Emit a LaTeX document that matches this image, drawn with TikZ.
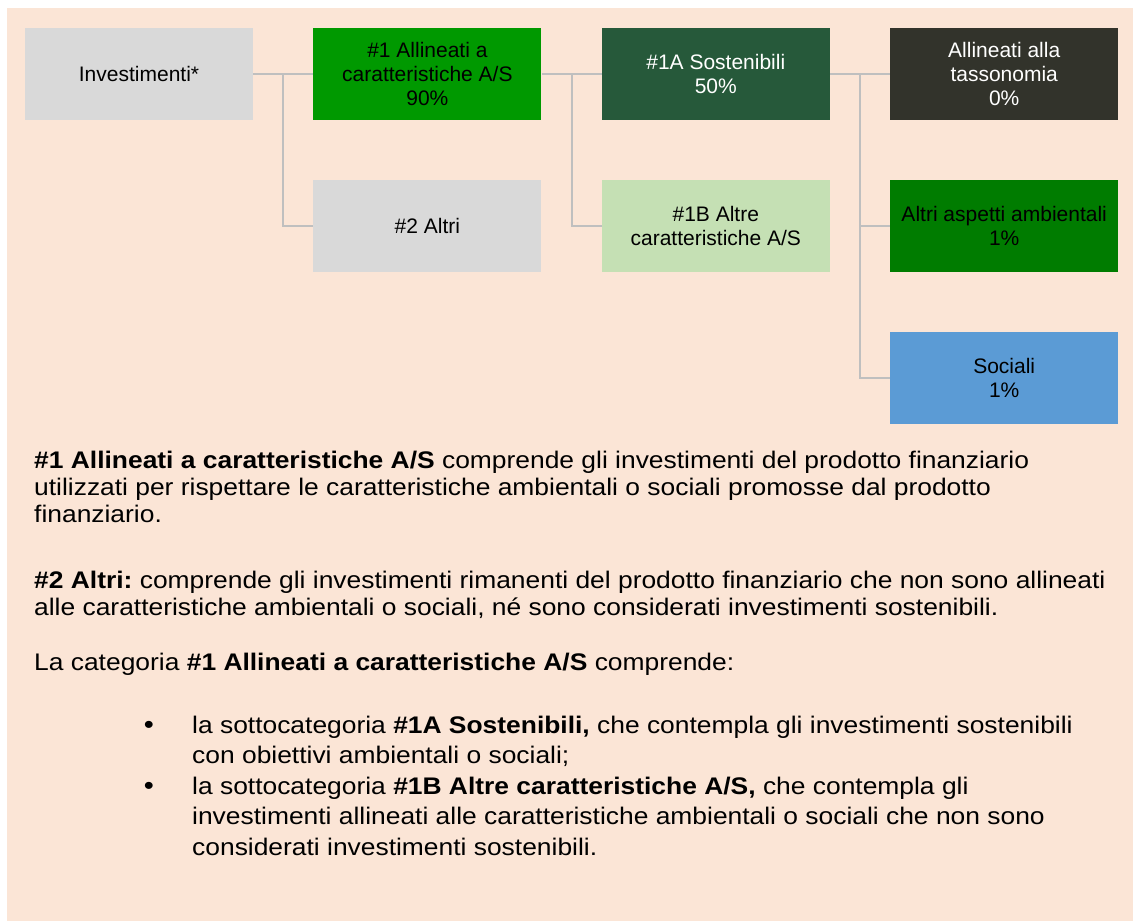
\documentclass[tikz,border=0pt]{standalone}
\usepackage{fontspec}
\setmainfont{Liberation Sans}
\newfontfamily\bodyfont[FakeStretch=1.1]{Liberation Sans}
\usetikzlibrary{positioning}
\usetikzlibrary{calc}
\frenchspacing

\definecolor{peach}{HTML}{FBE5D6}
\definecolor{boxgray}{HTML}{D9D9D9}
\definecolor{linkgray}{HTML}{BFBFBF}
\definecolor{aligngreen}{HTML}{009900}
\definecolor{sustgreen}{HTML}{26593A}
\definecolor{taxdark}{HTML}{32332B}
\definecolor{envgreen}{HTML}{007C00}
\definecolor{lightgreen}{HTML}{C5E0B4}
\definecolor{socialblue}{HTML}{5B9BD5}

\begin{document}
\begin{tikzpicture}[x=1bp, y=-1bp,
                node distance=60bp,
                catbox/.style={rectangle, minimum width=228bp, minimum height=92bp, inner sep=2bp, align=center, font=\fontsize{21bp}{24bp}\selectfont},
                graybox/.style={catbox, fill=boxgray},
                greenbox/.style={catbox, fill=aligngreen},
                sustbox/.style={catbox, fill=sustgreen, text=white},
                lightbox/.style={catbox, fill=lightgreen},
                taxbox/.style={catbox, fill=taxdark, text=white},
                envbox/.style={catbox, fill=envgreen},
                socbox/.style={catbox, fill=socialblue},
                link/.style={draw=linkgray, line width=2bp},
                bodytext/.style={anchor=base west, inner sep=0pt, align=left, font=\bodyfont\fontsize{24bp}{27bp}\selectfont},
                itemtext/.style={bodytext, font=\bodyfont\fontsize{24bp}{30.5bp}\selectfont},
                itemdot/.style={anchor=base, inner sep=0pt, font=\bodyfont\fontsize{26bp}{30bp}\selectfont},
                ]
                \useasboundingbox (0,0) rectangle (1133,921);
                \fill[white] (0,0) rectangle (1133,921);
                \fill[peach] (7,8) rectangle (1133,921);

                \node[graybox] (inv) at (139,73.5) {Investimenti*};
                \node[greenbox, right=of inv] (a1) {\#1 Allineati a\\caratteristiche A/S\\90\%};
                \node[graybox, below=of a1] (a2) {\#2 Altri};
                \node[sustbox, right=of a1] (a1A) {\#1A Sostenibili\\50\%};
                \node[lightbox, below=of a1A] (a1B) {\#1B Altre\\caratteristiche A/S};
                \node[taxbox, right=of a1A] (tax) {Allineati alla\\tassonomia\\0\%};
                \node[envbox, below=of tax] (env) {Altri aspetti ambientali\\1\%};
                \node[socbox, below=of env] (soc) {Sociali\\1\%};

                \coordinate (j1) at ($(inv.east)!0.5!(a1.west)$);
                \coordinate (j2) at ($(a1.east)!0.5!(a1A.west)$);
                \coordinate (j3) at ($(a1A.east)!0.5!(tax.west)$);

                \draw[link] (inv.east) -- (a1.west);
                \draw[link] (j1) |- (a2.west);
                \draw[link] (a1.east) -- (a1A.west);
                \draw[link] (j2) |- (a1B.west);
                \draw[link] (a1A.east) -- (tax.west);
                \draw[link] (j3) |- (env.west);
                \draw[link] (j3) |- (soc.west);

                % legenda (base = baseline of the last line)
                \node[bodytext] (def1) at (34,522) {\textbf{\#1 Allineati a caratteristiche A/S} comprende gli investimenti del prodotto finanziario\\utilizzati per rispettare le caratteristiche ambientali o sociali promosse dal prodotto\\finanziario.};
                \node[bodytext] (def2) at (34,615) {\textbf{\#2 Altri:} comprende gli investimenti rimanenti del prodotto finanziario che non sono allineati\\alle caratteristiche ambientali o sociali, né sono considerati investimenti sostenibili.};
                \node[bodytext] (cat) at (34,670) {La categoria \textbf{\#1 Allineati a caratteristiche A/S} comprende:};

                \node[itemdot] (dot1) at (149,733) {\textbullet};
                \node[itemtext] (item1) at (192,763.5) {la sottocategoria \textbf{\#1A Sostenibili,} che contempla gli investimenti sostenibili\\con obiettivi ambientali o sociali;};
                \node[itemdot] (dot2) at (149,794) {\textbullet};
                \node[itemtext] (item2) at (192,855) {la sottocategoria \textbf{\#1B Altre caratteristiche A/S,} che contempla gli\\investimenti allineati alle caratteristiche ambientali o sociali che non sono\\considerati investimenti sostenibili.};
            \end{tikzpicture}
\end{document}
